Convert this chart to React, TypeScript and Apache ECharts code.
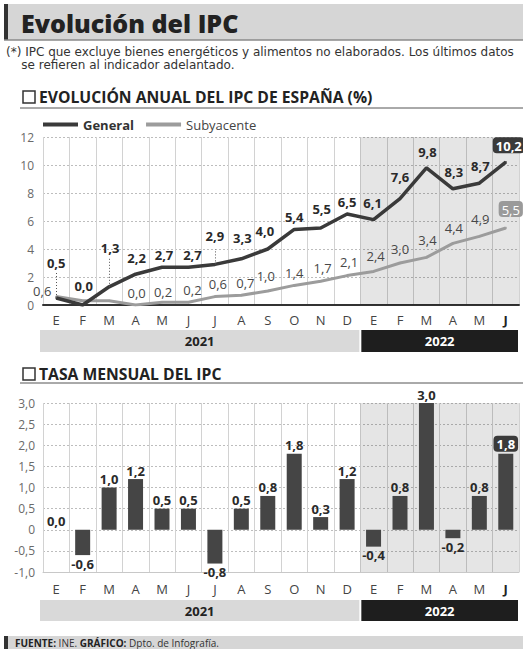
import React, { useEffect, useRef } from "react";
import * as echarts from "echarts";

// ---------- data ----------
const months = ["E", "F", "M", "A", "M", "J", "J", "A", "S", "O", "N", "D", "E", "F", "M", "A", "M", "J"];
const general = [0.5, 0.0, 1.3, 2.2, 2.7, 2.7, 2.9, 3.3, 4.0, 5.4, 5.5, 6.5, 6.1, 7.6, 9.8, 8.3, 8.7, 10.2];
const subyacente = [0.6, 0.3, 0.3, 0.0, 0.2, 0.2, 0.6, 0.7, 1.0, 1.4, 1.7, 2.1, 2.4, 3.0, 3.4, 4.4, 4.9, 5.5];
const mensual = [0.0, -0.6, 1.0, 1.2, 0.5, 0.5, -0.8, 0.5, 0.8, 1.8, 0.3, 1.2, -0.4, 0.8, 3.0, -0.2, 0.8, 1.8];
const years = ["2021", "2022"];
const monthsPerYear = [12, 6];
const subHiddenLabels = [1, 2];
const leaderLines = [
  [0, 0.5, 2.3],
  [2, 1.3, 3.4],
  [6, 2.9, 4.0],
];

// label nudges (presentation only)
const genOff = [[0, -23], [1, -7], [1, -26], [1, -4], [2, 0], [4, 0], [0, -16], [1, -8], [-3, -6], [0, 0], [1, -7], [0, 0], [-1, -4], [0, -9], [1, -3], [1, -4], [1, -5], [3, -3]];
const subOff = [[-14, 7], [0, 0], [0, 0], [1, 0], [1, 2], [4, 0], [3, 0], [4, 0], [-2, -3], [0, 0], [2, -1], [2, -1], [2, -3], [0, -2], [1, -5], [1, -3], [1, -5], [5, -5]];

const FONT = "Open Sans";
const NOTE_FONT = "DejaVu Sans";
const fmt = (v: number) => v.toFixed(1).replace(".", ",");

const G_LEFT = 43;
const G_W = 476;

export default function App() {
  const ref = useRef<HTMLDivElement>(null);
  useEffect(() => {
    if (!ref.current) return;
    const chart = echarts.init(ref.current, undefined, { renderer: "svg" });
    const bandW = G_W / months.length;

    const yearRects: any[] = [];
    const makeYearBar = (top: number, h: number) => {
      let start = 0;
      years.forEach((y, i) => {
        const n = monthsPerYear[i];
        const x0 = G_LEFT + start * bandW + (i === 0 ? -3 : 1);
        const x1 = G_LEFT + (start + n) * bandW - 1;
        yearRects.push({
          type: "rect",
          shape: { x: x0, y: top, width: x1 - x0, height: h },
          style: { fill: i === 0 ? "#d9d9d9" : "#1e1e1e" },
        });
        yearRects.push({
          type: "text",
          x: (x0 + x1) / 2,
          y: top + h / 2,
          style: {
            text: y,
            fill: i === 0 ? "#222" : "#fff",
            font: `bold 13px ${FONT}`,
            align: "center",
            verticalAlign: "middle",
          },
        });
        start += n;
      });
    };
    makeYearBar(330, 22);
    makeYearBar(600, 21);

    const boxDark = {
      backgroundColor: "#3a3a3a",
      color: "#fff",
      borderRadius: 4,
      padding: [2, 3, 1, 3],
    };
    const boxGrey = {
      backgroundColor: "#9a9a9a",
      color: "#fff",
      borderRadius: 4,
      padding: [2, 3, 1, 3],
      fontWeight: "normal",
    };

    const monthLabel = {
      color: "#444",
      fontSize: 13,
      fontFamily: FONT,
      interval: 0,
      formatter: (v: string, i: number) => (i === months.length - 1 ? `{b|${v}}` : v),
      rich: { b: { fontWeight: "bold", color: "#222", fontSize: 13, fontFamily: FONT } },
    };

    const option: any = {
      animation: false,
      backgroundColor: "#fff",
      textStyle: { fontFamily: FONT },
      legend: {
        left: 38,
        top: 113,
        icon: "rect",
        itemWidth: 35,
        itemHeight: 4,
        itemGap: 12,
        data: [
          { name: "General", textStyle: { fontWeight: "bold", color: "#333", fontSize: 13 } },
          { name: "Subyacente", textStyle: { color: "#444", fontSize: 13 } },
        ],
        textStyle: { fontFamily: FONT, fontSize: 13 },
      },
      grid: [
        { left: G_LEFT, top: 137, width: G_W, height: 168 },
        { left: G_LEFT, top: 403, width: G_W, height: 169 },
      ],
      xAxis: [
        {
          gridIndex: 0,
          type: "category",
          data: months,
          boundaryGap: true,
          axisLine: { show: true, lineStyle: { color: "#333", width: 2 } },
          axisTick: { show: false },
          axisLabel: { ...monthLabel, margin: 8 },
          splitLine: { show: true, interval: 0, lineStyle: { color: "#d2d2d2", width: 1 } },
        },
        { gridIndex: 0, type: "value", min: 0, max: 18, show: false },
        {
          gridIndex: 1,
          type: "category",
          data: months,
          boundaryGap: true,
          axisLine: { show: true, onZero: false, lineStyle: { color: "#c8c8c8", width: 1 } },
          axisTick: { show: false },
          axisLabel: { ...monthLabel, margin: 10 },
          splitLine: { show: true, interval: 0, lineStyle: { color: "#d2d2d2", width: 1 } },
        },
        { gridIndex: 1, type: "value", min: 0, max: 18, show: false },
      ],
      yAxis: [
        {
          gridIndex: 0,
          type: "value",
          min: 0,
          max: 12,
          interval: 2,
          axisLine: { show: false },
          axisTick: { show: false },
          axisLabel: { color: "#6a6a6a", fontSize: 12, fontFamily: FONT, margin: 9 },
          splitLine: { show: true, lineStyle: { color: "#bdbdbd", type: [2, 2], width: 1 } },
        },
        {
          gridIndex: 1,
          type: "value",
          min: -1,
          max: 3,
          interval: 0.5,
          axisLine: { show: false },
          axisTick: { show: false },
          axisLabel: {
            color: "#6a6a6a",
            fontSize: 12,
            fontFamily: FONT,
            margin: 8,
            formatter: (v: number) => (v === 0 ? "0" : fmt(v)),
          },
          splitLine: { show: true, lineStyle: { color: "#bdbdbd", type: [2, 2], width: 1 } },
        },
      ],
      series: [
        {
          type: "line",
          xAxisIndex: 1,
          yAxisIndex: 0,
          data: [],
          silent: true,
          z: 1,
          markArea: {
            silent: true,
            itemStyle: { color: "rgba(0,0,0,0.1)" },
            data: [[{ xAxis: 12 }, { xAxis: 18 }]],
          },
        },
        {
          type: "line",
          xAxisIndex: 3,
          yAxisIndex: 1,
          data: [],
          silent: true,
          z: 1,
          markArea: {
            silent: true,
            itemStyle: { color: "rgba(0,0,0,0.1)" },
            data: [[{ xAxis: 12 }, { xAxis: 18 }]],
          },
        },
        {
          name: "Subyacente",
          type: "line",
          xAxisIndex: 0,
          yAxisIndex: 0,
          z: 3,
          showSymbol: true,
          symbol: "circle",
          symbolSize: 2,
          color: "#9c9c9c",
          itemStyle: { color: "#9c9c9c" },
          lineStyle: { color: "#9c9c9c", width: 3 },
          label: {
            show: true,
            position: "top",
            distance: 5,
            color: "#484848",
            fontSize: 13,
            fontFamily: FONT,
            formatter: (p: any) => fmt(p.value),
          },
          data: subyacente.map((v, i) => ({
            value: v,
            label: {
              show: !subHiddenLabels.includes(i),
              offset: subOff[i],
              ...(i === months.length - 1 ? boxGrey : {}),
            },
          })),
        },
        {
          name: "General",
          type: "line",
          xAxisIndex: 0,
          yAxisIndex: 0,
          z: 4,
          showSymbol: true,
          symbol: "circle",
          symbolSize: 2,
          color: "#3a3a3a",
          itemStyle: { color: "#3a3a3a" },
          lineStyle: { color: "#3a3a3a", width: 3.5 },
          label: {
            show: true,
            position: "top",
            distance: 5,
            color: "#2a2a2a",
            fontWeight: "bold",
            fontSize: 13,
            fontFamily: FONT,
            formatter: (p: any) => fmt(p.value),
          },
          data: general.map((v, i) => ({
            value: v,
            label: {
              offset: genOff[i],
              ...(i === months.length - 1 ? boxDark : {}),
            },
          })),
          markLine: {
            silent: true,
            symbol: "none",
            label: { show: false },
            lineStyle: { color: "#555", type: [1, 2], width: 1 },
            data: leaderLines.map(([i, a, b]) => [{ coord: [i, a] }, { coord: [i, b] }]),
          },
        },
        {
          name: "Mensual",
          type: "bar",
          xAxisIndex: 2,
          yAxisIndex: 1,
          z: 3,
          barWidth: 15,
          itemStyle: { color: "#454545" },
          label: {
            show: true,
            color: "#2a2a2a",
            fontWeight: "bold",
            fontSize: 13,
            fontFamily: FONT,
            distance: 2,
            formatter: (p: any) => fmt(p.value),
          },
          data: mensual.map((v, i) => ({
            value: v,
            label: {
              position: v < 0 ? "bottom" : "top",
              ...(i === months.length - 1 ? boxDark : {}),
            },
          })),
        },
      ],
      graphic: [
        // title bar
        { type: "rect", shape: { x: 4, y: 4, width: 519, height: 36 }, style: { fill: "#d6d6d6" } },
        { type: "rect", shape: { x: 4, y: 4, width: 4, height: 36 }, style: { fill: "#333" } },
        { type: "line", shape: { x1: 4, y1: 40, x2: 523, y2: 40 }, style: { stroke: "#8a8a8a", lineWidth: 1.5 } },
        {
          type: "text",
          x: 21,
          y: 23,
          style: { text: "Evolución del IPC", font: `800 25px ${FONT}`, fill: "#222", verticalAlign: "middle" },
        },
        // note (two lines in one text block)
        {
          type: "text",
          x: 6,
          y: 45,
          style: {
            text:
              "(*) IPC que excluye bienes energéticos y alimentos no elaborados. Los últimos datos\n    se refieren al indicador adelantado.",
            font: `12px ${NOTE_FONT}`,
            lineHeight: 13,
            fill: "#333",
            verticalAlign: "top",
          },
        },
        // heading 1
        { type: "rect", shape: { x: 23, y: 91, width: 12, height: 12 }, style: { fill: "none", stroke: "#333", lineWidth: 1.5 } },
        {
          type: "text",
          x: 39,
          y: 97,
          style: { text: "EVOLUCIÓN ANUAL DEL IPC DE ESPAÑA (%)", font: `bold 15.7px ${FONT}`, fill: "#222", verticalAlign: "middle" },
        },
        { type: "line", shape: { x1: 20, y1: 108, x2: 523, y2: 108 }, style: { stroke: "#555", lineWidth: 1 } },
        // heading 2
        { type: "rect", shape: { x: 23, y: 368, width: 12, height: 12 }, style: { fill: "none", stroke: "#333", lineWidth: 1.5 } },
        {
          type: "text",
          x: 39,
          y: 374,
          style: { text: "TASA MENSUAL DEL IPC", font: `bold 15.7px ${FONT}`, fill: "#222", verticalAlign: "middle" },
        },
        { type: "line", shape: { x1: 20, y1: 383, x2: 523, y2: 383 }, style: { stroke: "#555", lineWidth: 1 } },
        // year bars
        ...yearRects,
        // footer
        { type: "rect", shape: { x: 4, y: 636, width: 519, height: 13 }, style: { fill: "#d6d6d6" } },
        { type: "rect", shape: { x: 4, y: 636, width: 4, height: 13 }, style: { fill: "#333" } },
        {
          type: "text",
          x: 15,
          y: 643,
          style: {
            text: "{b|FUENTE:} INE. {b|GRÁFICO:} Dpto. de Infografía.",
            font: `10px ${FONT}`,
            fill: "#333",
            verticalAlign: "middle",
            rich: { b: { fontWeight: "bold", fontSize: 10, fontFamily: FONT, fill: "#222" } },
          },
        },
      ],
    };
    chart.setOption(option);
    return () => chart.dispose();
  }, []);

  return (
    <div
      ref={ref}
      style={{ position: "fixed", left: 0, top: 0, width: 523, height: 649, background: "#fff" }}
    />
  );
}
